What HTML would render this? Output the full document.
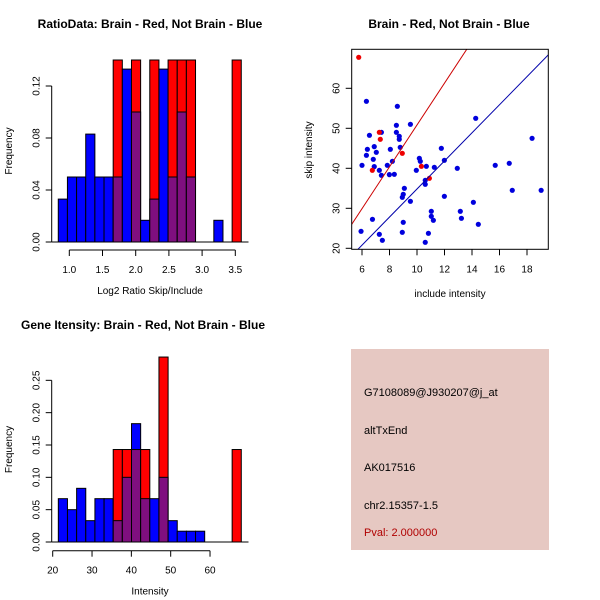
<!DOCTYPE html>
<html><head><meta charset="utf-8"><style>
html,body{margin:0;padding:0;background:#fff}
svg{display:block;font-family:"Liberation Sans",sans-serif}
</style></head><body>
<svg id="chart" width="600" height="600" viewBox="0 0 600 600">
<rect x="351" y="349" width="198" height="201" fill="#e6c8c2"/>
<g font-size="11">
<text x="364" y="396">G7108089@J930207@j_at</text>
<text x="364" y="434">altTxEnd</text>
<text x="364" y="471">AK017516</text>
<text x="364" y="509">chr2.15357-1.5</text>
<text x="364" y="536" fill="#b00000">Pval: 2.000000</text>
</g>
</svg>
<script>
// Ratio histogram data
const ratioBreakStart = 0.834, ratioBinWidth = 0.1378;
const ratioBlue = [0.033,0.05,0.05,0.083,0.05,0.05,0.05,0.133,0.10,0.0167,0.033,0.133,0.05,0.10,0.05,0,0,0.0167,0,0];
const ratioRed = [0,0,0,0,0,0,0.143,0,0.143,0,0.143,0,0.143,0.143,0.143,0,0,0,0,0.143];
const ratioXTicks = [1.0,1.5,2.0,2.5,3.0,3.5];
const ratioYTicks = [0.00,0.04,0.08,0.12];
// Intensity histogram data
const intBreakStart = 21.43, intBinWidth = 2.326;
const intBlue = [0.067,0.05,0.083,0.033,0.067,0.067,0.033,0.10,0.183,0.067,0.067,0.10,0.033,0.0167,0.0167,0.0167,0,0,0,0];
const intRed = [0,0,0,0,0,0,0.143,0.143,0.143,0.143,0,0.286,0,0,0,0,0,0,0,0.143];
const intXTicks = [20,30,40,50,60];
const intYTicks = [0.00,0.05,0.10,0.15,0.20,0.25];
// Scatter data
const blueX = [5.93,6.0,6.32,6.39,6.32,6.54,6.76,6.82,6.89,6.89,7.04,7.26,7.26,7.41,7.41,7.48,7.84,7.99,8.06,8.21,8.35,8.57,8.50,8.50,8.71,8.71,8.78,8.93,9.0,8.93,9.0,9.08,9.52,9.52,9.95,10.17,10.24,10.68,10.6,10.6,10.6,10.83,11.04,11.04,11.19,11.26,11.77,11.99,11.99,12.93,13.15,13.23,14.1,14.27,14.46,15.69,16.71,16.93,18.37,19.03];
const blueY = [24.25,40.75,43.25,44.75,56.75,48.25,27.25,42.25,45.42,40.42,44.0,23.5,39.5,49.0,38.25,22.0,40.75,38.42,44.75,41.75,38.5,55.5,50.75,49.0,48.0,47.25,45.25,32.75,33.5,24.0,26.5,35.0,31.75,51.0,39.5,42.5,41.75,40.5,36.0,37.0,21.5,23.75,29.25,28.0,27.0,40.25,45.0,42.0,33.0,40.0,29.25,27.5,31.5,52.5,26.0,40.75,41.25,34.5,47.5,34.5];
const redX = [5.76,6.75,7.26,7.33,8.93,10.32,10.90];
const redY = [67.75,39.5,49.0,47.25,43.75,40.5,37.5];
const redLine = [5.23,-1.47];
const blueLine = [3.51,-0.27];
const scXTicks = [6,8,10,12,14,16,18];
const scYTicks = [20,30,40,50,60];

const NS="http://www.w3.org/2000/svg", svg=document.getElementById('chart');
function mk(tag,attrs,parent,txt){const e=document.createElementNS(NS,tag);for(const k in attrs)e.setAttribute(k,attrs[k]);if(txt!==undefined)e.textContent=txt;(parent||svg).appendChild(e);return e;}

function histogram(o){
  const g=mk('g',{});
  
  
  const xs=v=>o.x0+(v-o.v0)*o.kx, ys=v=>o.y0-v*o.ky;
  for(let i=0;i<o.blue.length;i++){
    const l=xs(o.start+i*o.w), r=xs(o.start+(i+1)*o.w);
    const b=o.blue[i], rd=o.red[i], top=Math.max(b,rd), ov=Math.min(b,rd);
    if(top<=0)continue;
    const col=rd>b?'#ff0000':'#0000ff';
    const cap=Math.min(top,o.ymax);
    const bar=mk('rect',{x:l,y:ys(cap),width:r-l,height:ys(0)-ys(cap),fill:col,stroke:'#000','stroke-width':1},g);
    
    
    if(ov>0){
      const p=mk('rect',{x:l,y:ys(ov),width:r-l,height:ys(0)-ys(ov),fill:'#7f0f7f',stroke:'#000','stroke-width':1},g);
      
      
    }
  }
  mk('line',{x1:o.baseL,x2:o.baseR,y1:ys(0),y2:ys(0),stroke:'#000'},g);
  const ya=mk('g',{},g);
  
  
  mk('line',{x1:o.axX,x2:o.axX,y1:ys(o.yTicks[0]),y2:ys(o.yTicks[o.yTicks.length-1]),stroke:'#000'},ya);
  o.yTicks.forEach(t=>{mk('line',{x1:o.axX-6,x2:o.axX,y1:ys(t),y2:ys(t),stroke:'#000'},ya);
    mk('text',{x:o.axX-12,y:ys(t),'font-size':10,'text-anchor':'middle',transform:`rotate(-90 ${o.axX-12} ${ys(t)})`},ya,t.toFixed(2));});
  const xa=mk('g',{},g);
  
  
  mk('line',{x1:xs(o.xTicks[0]),x2:xs(o.xTicks[o.xTicks.length-1]),y1:o.axY,y2:o.axY,stroke:'#000'},xa);
  o.xTicks.forEach(t=>{mk('line',{x1:xs(t),x2:xs(t),y1:o.axY,y2:o.axY+6,stroke:'#000'},xa);
    mk('text',{x:xs(t),y:o.axY+23,'font-size':10,'text-anchor':'middle'},xa,o.fmt(t));});
  const xt=mk('text',{x:150,y:o.axY+44,'font-size':10,'text-anchor':'middle'},g,o.xlab);
  
  
  const yt=mk('text',{x:12,y:(ys(0)+o.topY)/2,'font-size':10,'text-anchor':'middle',transform:`rotate(-90 12 ${(ys(0)+o.topY)/2})`},g,'Frequency');
  
  
  const tt=mk('text',{x:o.titleX,y:o.titleY,'font-size':12,'font-weight':'bold','text-anchor':'middle'},g,o.title);
  
  
}
histogram({name:'ratio-histogram',blue:ratioBlue,red:ratioRed,start:ratioBreakStart,w:ratioBinWidth,
  x0:69.3,v0:1.0,kx:66.4,y0:242,ky:1300,ymax:0.14,topY:60,axX:51.7,axY:250,baseL:51.7,baseR:248.5,
  xTicks:ratioXTicks,yTicks:ratioYTicks,fmt:t=>t.toFixed(1),xlab:'Log2 Ratio Skip/Include',
  title:'RatioData: Brain - Red, Not Brain - Blue',titleX:150,titleY:28});
histogram({name:'intensity-histogram',blue:intBlue,red:intRed,start:intBreakStart,w:intBinWidth,
  x0:52.7,v0:20,kx:3.933,y0:542,ky:646.7,ymax:0.3,topY:357,axX:51.7,axY:550.7,baseL:51.7,baseR:248.5,
  xTicks:intXTicks,yTicks:intYTicks,fmt:t=>String(t),xlab:'Intensity',
  title:'Gene Itensity: Brain - Red, Not Brain - Blue',titleX:143,titleY:329});

// scatter
(function(){
  const L=351.7,R=548.3,T=49.3,B=249.3, xmin=5.25,xmax=19.55,ymin=19.75,ymax=69.75;
  const xs=v=>L+(v-xmin)/(xmax-xmin)*(R-L), ys=v=>B-(v-ymin)/(ymax-ymin)*(B-T);
  const g=mk('g',{});
  
  
  const cp=mk('clipPath',{id:'scclip'},g);mk('rect',{x:L,y:T,width:R-L,height:B-T},cp);
  blueX.forEach((x,i)=>{const c=mk('circle',{cx:xs(x),cy:ys(blueY[i]),r:2.6,fill:'#0000dd'},g);
    
    });
  redX.forEach((x,i)=>{const c=mk('circle',{cx:xs(x),cy:ys(redY[i]),r:2.6,fill:'#ee0000'},g);
    
    });
  const lg=mk('g',{'clip-path':'url(#scclip)'},g);
  [[redLine,'#cc0000','fit-line-red'],[blueLine,'#0000aa','fit-line-blue']].forEach(([ln,c,n])=>{
    const l=mk('line',{x1:xs(xmin),y1:ys(ln[0]*xmin+ln[1]),x2:xs(xmax),y2:ys(ln[0]*xmax+ln[1]),stroke:c,'stroke-width':1},lg);
    
    });
  mk('rect',{x:L,y:T,width:R-L,height:B-T,fill:'none',stroke:'#000'},g);
  scXTicks.forEach(t=>{mk('line',{x1:xs(t),x2:xs(t),y1:B,y2:B+6,stroke:'#000'},g);
    mk('text',{x:xs(t),y:B+23,'font-size':10,'text-anchor':'middle'},g,String(t));});
  scYTicks.forEach(t=>{mk('line',{x1:L-6,x2:L,y1:ys(t),y2:ys(t),stroke:'#000'},g);
    mk('text',{x:L-12,y:ys(t),'font-size':10,'text-anchor':'middle',transform:`rotate(-90 ${L-12} ${ys(t)})`},g,String(t));});
  const xt=mk('text',{x:450,y:297,'font-size':10,'text-anchor':'middle'},g,'include intensity');
  
  
  const yt=mk('text',{x:312,y:150,'font-size':10,'text-anchor':'middle',transform:'rotate(-90 312 150)'},g,'skip intensity');
  
  
  const tt=mk('text',{x:449,y:28,'font-size':12,'font-weight':'bold','text-anchor':'middle'},g,'Brain - Red, Not Brain - Blue');
  
  
})();
</script>
</body></html>
